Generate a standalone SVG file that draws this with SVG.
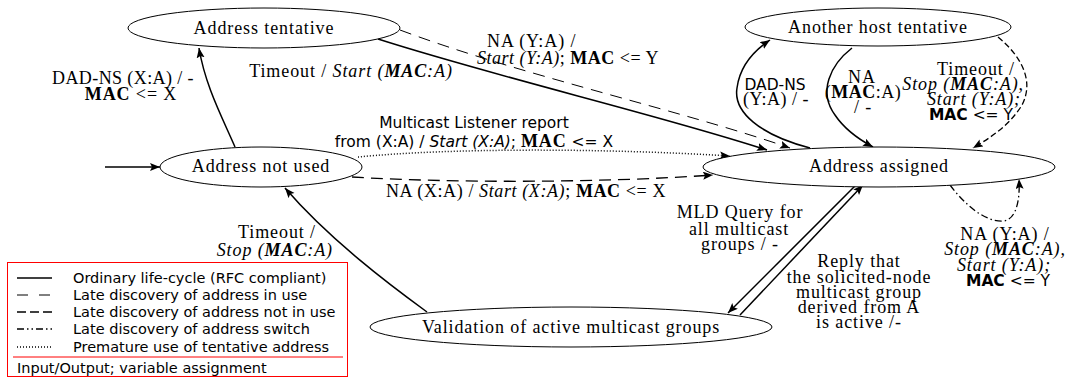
<svg xmlns="http://www.w3.org/2000/svg" width="1069" height="378" viewBox="0 0 1069 378">
<style>
.s{font-family:"Liberation Serif","Times New Roman",serif;font-size:18px;letter-spacing:0.9px;fill:#000}
.ss{font-family:"DejaVu Sans",sans-serif;font-size:15.5px;fill:#000}
.lg{font-family:"DejaVu Sans",sans-serif;font-size:14.5px;fill:#000}
.b{font-weight:bold}
.i{font-style:italic}
.sf{font-family:"Liberation Serif","Times New Roman",serif;font-size:18px;letter-spacing:0.9px}
.node ellipse{fill:#fff;stroke:#000;stroke-width:1}
.e{fill:none;stroke:#000;stroke-width:1.5}
.dash1{stroke-width:1;stroke-dasharray:12,8}
.dash2{stroke-width:1.3;stroke-dasharray:12,7}
.dash3{stroke-width:1.3;stroke-dasharray:6,3}
.dot{stroke-width:1.5;stroke-dasharray:1,2}
.dd{stroke-width:1.3;stroke-dasharray:7,3,1.5,3}
</style>
<defs>
<marker id="ah" markerUnits="userSpaceOnUse" markerWidth="11" markerHeight="9" refX="10" refY="4" orient="auto">
<path d="M0,0 L10,4 L0,8 L2,4 z" fill="#000"/>
</marker>
</defs>
<g id="connectors">
<path class="e" d="M105,167 L160,167" marker-end="url(#ah)"/>
<path class="e" d="M235,147 C222,117 205,85 199,48" marker-end="url(#ah)"/>
<path class="e" d="M378,39 C500,78 660,115 767,150" marker-end="url(#ah)"/>
<path class="e dash1" d="M400,30 C520,75 680,110 790,148" marker-end="url(#ah)"/>
<path class="e dot" d="M358,157 C450,148 600,148 730,156" marker-end="url(#ah)"/>
<path class="e dash2" d="M352,177 C450,183 600,183 713,175" marker-end="url(#ah)"/>
<path class="e" d="M810,148 C760,135 733,112 737,88 C740,65 755,50 770,40" marker-end="url(#ah)"/>
<path class="e" d="M852,48 C830,65 818,92 835,115 C845,130 860,140 873,147" marker-end="url(#ah)"/>
<path class="e dash3" d="M998,37 C1020,55 1035,80 1022,105 C1010,125 990,138 973,148" marker-end="url(#ah)"/>
<path class="e dd" d="M950,185 C965,205 985,222 1003,221 C1018,220 1020,195 1019,179" marker-end="url(#ah)"/>
<path class="e" d="M855,186 L728,313" marker-end="url(#ah)"/>
<path class="e" d="M740,315 L863,185" marker-end="url(#ah)"/>
<path class="e" d="M427,312 C390,285 330,240 285,188" marker-end="url(#ah)"/>
</g>
<g id="labels">
<text class="s" text-anchor="middle" x="123" y="84" style="letter-spacing:0.4px">DAD-NS (X:A) / -</text>
<text class="s" text-anchor="middle" x="131" y="100"><tspan class="b">MAC</tspan> &lt;= X</text>
<text class="s" text-anchor="middle" x="351" y="77">Timeout / <tspan class="i">Start (<tspan class="b">MAC</tspan>:A)</tspan></text>
<text class="s" x="487" y="47">NA (Y:A) /</text>
<text class="s" x="477" y="64" style="letter-spacing:0.5px"><tspan class="i">Start (Y:A)</tspan>; <tspan class="b">MAC</tspan> &lt;= Y</text>
<text class="ss" text-anchor="middle" x="474" y="128">Multicast Listener report</text>
<text class="ss" text-anchor="middle" x="474" y="147">from (X:A) / <tspan class="i">Start (X:A)</tspan>; <tspan class="b sf">MAC</tspan> &lt;= X</text>
<text class="s" text-anchor="middle" x="526" y="197" style="letter-spacing:0.6px">NA (X:A) / <tspan class="i">Start (X:A)</tspan>; <tspan class="b">MAC</tspan> &lt;= X</text>
<text class="ss" text-anchor="middle" x="775" y="90">DAD-NS</text>
<text class="s" text-anchor="middle" x="776" y="105" style="letter-spacing:0.5px">(Y:A) / -</text>
<text class="s" text-anchor="middle" x="862" y="83">NA</text>
<text class="s" text-anchor="middle" x="863" y="98" style="letter-spacing:0.5px">(<tspan class="b">MAC</tspan>:A)</text>
<text class="s" text-anchor="middle" x="863" y="113">/ -</text>
<text class="s" text-anchor="end" x="1015" y="75">Timeout /</text>
<text class="s i" text-anchor="end" x="1024" y="90">Stop (<tspan class="b">MAC</tspan>:A),</text>
<text class="s i" text-anchor="end" x="1021" y="105">Start (Y:A);</text>
<text class="ss" text-anchor="end" x="1013" y="120"><tspan class="b">MAC</tspan> &lt;= Y</text>
<text class="s" text-anchor="middle" x="1005" y="240">NA (Y:A) /</text>
<text class="s i" text-anchor="middle" x="1005" y="255">Stop (<tspan class="b">MAC</tspan>:A),</text>
<text class="s i" text-anchor="middle" x="1004" y="271">Start (Y:A);</text>
<text class="ss" text-anchor="middle" x="1008" y="286"><tspan class="b">MAC</tspan> &lt;= Y</text>
<text class="s" text-anchor="middle" x="740" y="218">MLD Query for</text>
<text class="s" text-anchor="middle" x="739" y="235">all multicast</text>
<text class="s" text-anchor="middle" x="740" y="250">groups / -</text>
<text class="s" text-anchor="middle" x="859" y="267">Reply that</text>
<text class="s" text-anchor="middle" x="859" y="283">the solicited-node</text>
<text class="s" text-anchor="middle" x="859" y="298">multicast group</text>
<text class="s" text-anchor="middle" x="859" y="313">derived from A</text>
<text class="s" text-anchor="middle" x="859" y="328">is active /-</text>
<text class="s" text-anchor="end" x="316" y="238">Timeout /</text>
<text class="s i" text-anchor="end" x="333" y="256">Stop (<tspan class="b">MAC</tspan>:A)</text>
</g>
<g id="n-tentative" class="node">
<ellipse cx="264" cy="28" rx="136" ry="20"/>
<text class="s" text-anchor="middle" x="264" y="34">Address tentative</text>
</g>
<g id="n-another" class="node">
<ellipse cx="878" cy="27" rx="133" ry="19"/>
<text class="s" text-anchor="middle" x="878" y="33">Another host tentative</text>
</g>
<g id="n-notused" class="node">
<ellipse cx="261" cy="167" rx="101" ry="20"/>
<text class="s" text-anchor="middle" x="261" y="172">Address not used</text>
</g>
<g id="n-assigned" class="node">
<ellipse cx="879" cy="167" rx="176" ry="20"/>
<text class="s" text-anchor="middle" x="879" y="172">Address assigned</text>
</g>
<g id="n-validation" class="node">
<ellipse cx="571" cy="327" rx="201" ry="20"/>
<text class="s" text-anchor="middle" x="571" y="333">Validation of active multicast groups</text>
</g>
<g id="legend">
<rect x="7.5" y="262.5" width="340" height="114" fill="#fff" stroke="#f00" stroke-width="1"/>
<line x1="13" y1="357" x2="343" y2="357" stroke="#f00" stroke-width="1"/>
<line x1="17" y1="278" x2="52" y2="278" stroke="#000" stroke-width="1.5"/>
<line x1="17" y1="295" x2="52" y2="295" stroke="#000" stroke-width="1" stroke-dasharray="11,11"/>
<line x1="17" y1="312" x2="52" y2="312" stroke="#000" stroke-width="1.5" stroke-dasharray="9,4"/>
<line x1="17" y1="329" x2="52" y2="329" stroke="#000" stroke-width="1.5" stroke-dasharray="7,3,1.5,3,1.5,3"/>
<line x1="17" y1="347" x2="52" y2="347" stroke="#000" stroke-width="1.5" stroke-dasharray="1,2"/>
<text class="lg" x="73" y="283">Ordinary life-cycle (RFC compliant)</text>
<text class="lg" x="73" y="300">Late discovery of address in use</text>
<text class="lg" x="73" y="317">Late discovery of address not in use</text>
<text class="lg" x="73" y="334">Late discovery of address switch</text>
<text class="lg" x="73" y="352">Premature use of tentative address</text>
<text class="lg" x="17" y="373">Input/Output; variable assignment</text>
</g>
</svg>
